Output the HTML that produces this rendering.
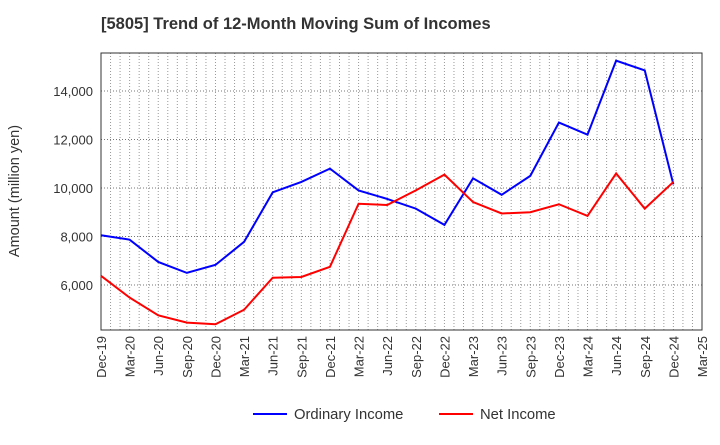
<!DOCTYPE html>
<html><head><meta charset="utf-8"><style>
body{margin:0;background:#fff;font-family:"Liberation Sans",sans-serif}
svg text{font-family:"Liberation Sans",sans-serif}
</style></head><body>
<svg id="c" width="720" height="440" viewBox="0 0 720 440" xmlns="http://www.w3.org/2000/svg">
<text x="101" y="29" font-size="16.5" font-weight="bold" fill="#333">[5805]  Trend of 12-Month Moving Sum of Incomes</text>
<text transform="translate(19,191) rotate(-90)" text-anchor="middle" font-size="14.5" fill="#333">Amount (million yen)</text>
<g id="grid"></g><g id="axes"></g><g id="series"></g>
<g>
<line x1="253" y1="414" x2="287" y2="414" stroke="#0000ff" stroke-width="2"/>
<text x="294" y="419" font-size="14.8" fill="#333">Ordinary Income</text>
<line x1="439" y1="414" x2="473" y2="414" stroke="#ff0000" stroke-width="2"/>
<text x="480" y="419" font-size="14.8" fill="#333">Net Income</text>
</g>
</svg>
<script>
const categories=["Dec-19","Mar-20","Jun-20","Sep-20","Dec-20","Mar-21","Jun-21","Sep-21","Dec-21","Mar-22","Jun-22","Sep-22","Dec-22","Mar-23","Jun-23","Sep-23","Dec-23","Mar-24","Jun-24","Sep-24","Dec-24","Mar-25"];
const ordinaryIncome=[8050,7870,6950,6500,6830,7780,9820,10250,10800,9900,9550,9150,8480,10400,9720,10500,12700,12200,15250,14850,10150];
const netIncome=[6380,5480,4750,4450,4380,4980,6300,6330,6750,9350,9300,9900,10550,9420,8950,9000,9330,8850,10600,9150,10250];
const yTicks=[6000,8000,10000,12000,14000];
const L=101,R=702,T=53,B=330;
const x=i=>L+i*(R-L)/(categories.length-1);
const y=v=>188-(v-10000)*0.02425;
const NS="http://www.w3.org/2000/svg";
function mk(tag,attrs,parent){const e=document.createElementNS(NS,tag);for(const k in attrs)e.setAttribute(k,attrs[k]);parent.appendChild(e);return e;}
const grid=document.getElementById('grid'),axes=document.getElementById('axes'),ser=document.getElementById('series');
for(let m=1;m<(categories.length-1)*3;m++){const xx=L+m*(R-L)/((categories.length-1)*3);
const g=mk('line',{x1:xx,x2:xx,y1:T,y2:B,stroke:'#999','stroke-width':1,'stroke-dasharray':'1,2'},grid);

}
yTicks.forEach(v=>{const l=mk('line',{x1:L,x2:R,y1:y(v),y2:y(v),stroke:'#777','stroke-width':1,'stroke-dasharray':'1,2'},grid);


const t=mk('text',{x:L-8,y:y(v)+5,'text-anchor':'end','font-size':13,fill:'#333'},axes);t.textContent=v.toLocaleString('en-US');

});
const fr=mk('rect',{x:L,y:T,width:R-L,height:B-T,fill:'none',stroke:'#333','stroke-width':1},axes);


categories.forEach((c,i)=>{const t=mk('text',{transform:`translate(${x(i)+5},${B+6}) rotate(-90)`,'text-anchor':'end','font-size':13,fill:'#333'},axes);t.textContent=c;

});
function line(d,col,name){const p=mk('polyline',{points:d.map((v,i)=>x(i)+','+y(v)).join(' '),fill:'none',stroke:col,'stroke-width':2},ser);

}
line(ordinaryIncome,'#0000ff','ordinary-income-line');
line(netIncome,'#ff0000','net-income-line');
</script>
</body></html>
